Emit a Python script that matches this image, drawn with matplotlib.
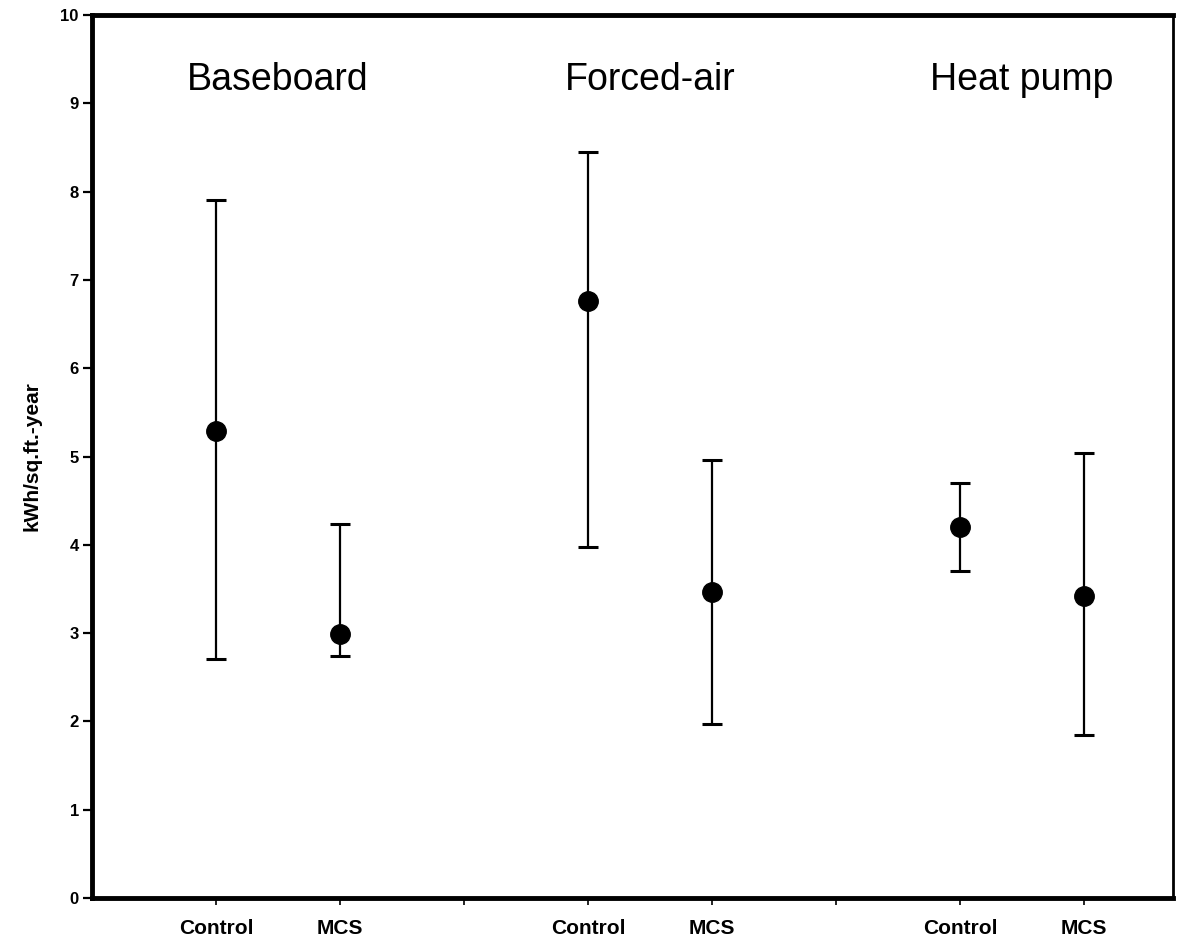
import matplotlib.pyplot as plt

plt.rcParams['font.family'] = ['Liberation Sans', 'DejaVu Sans']

groups = ['Baseboard', 'Forced-air', 'Heat pump']
labels = ['Control', 'MCS', 'Control', 'MCS', 'Control', 'MCS']
xpos = [1, 2, 4, 5, 7, 8]
means = [5.29, 2.99, 6.76, 3.47, 4.2, 3.42]
lows = [2.71, 2.74, 3.98, 1.97, 3.7, 1.85]
highs = [7.9, 4.24, 8.45, 4.96, 4.7, 5.04]
separators = [3, 6]

fig = plt.figure(figsize=(11.77, 9.47), dpi=100)
ax = fig.add_axes([0.0782, 0.0517, 0.9185, 0.9324])

yerr = [[m - lo for m, lo in zip(means, lows)], [hi - m for m, hi in zip(means, highs)]]
ax.errorbar(xpos, means, yerr=yerr, fmt='o', color='black', markersize=14,
            capsize=7, elinewidth=1.6, capthick=2.2)

for i, g in enumerate(groups):
    cx = (xpos[2 * i] + xpos[2 * i + 1]) / 2
    ax.text(cx, 9.26, g, ha='center', va='center', fontsize=27)

ax.set_xlim(0, 8.72)
ax.set_ylim(0, 10)
ax.set_yticks(range(0, 11))
ax.set_yticklabels([str(v) for v in range(0, 11)], fontsize=12, fontweight='bold')
ax.set_xticks(xpos)
ax.set_xticklabels(labels, fontsize=15, fontweight='bold')
ax.set_xticks(separators, minor=True)
ax.tick_params(axis='x', which='both', direction='out', length=5, width=1.2, pad=10)
ax.tick_params(axis='y', direction='out', length=6.5, width=1.6, pad=3)
ax.set_ylabel('kWh/sq.ft.-year', fontsize=15, fontweight='bold', labelpad=14)

for side in ['left', 'bottom', 'top']:
    ax.spines[side].set_linewidth(3.5)
ax.spines['right'].set_linewidth(2)

fig.savefig('out.png', dpi=100)
